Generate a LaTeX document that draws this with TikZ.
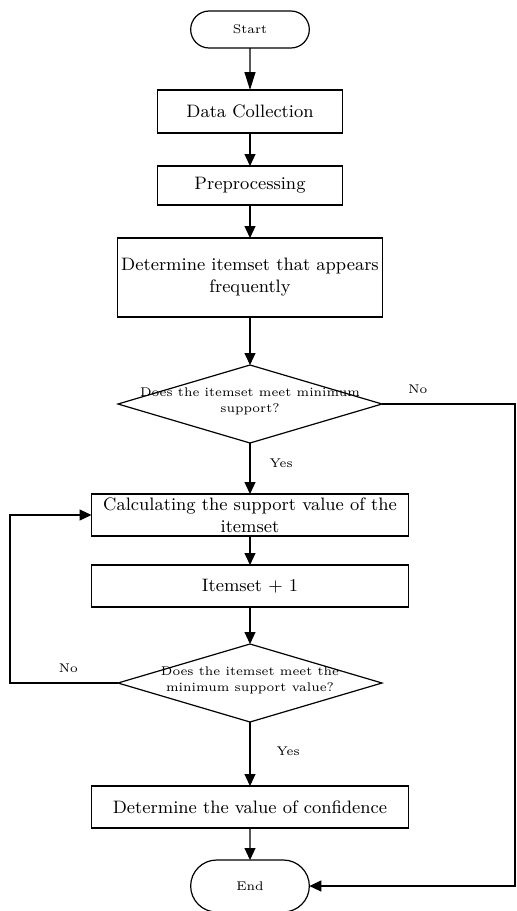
\documentclass[tikz,border=0pt]{standalone}
\usetikzlibrary{arrows.meta}
\usetikzlibrary{positioning}
\usetikzlibrary{shapes.geometric, shapes.misc}

\newcommand{\dtext}[1]{\makebox[0pt]{\smash{\begin{tabular}{@{}c@{}}#1\end{tabular}}}}

\begin{document}
\begin{tikzpicture}[-{Triangle[length=6pt, width=5.5pt]}, semithick, x=1pt, y=1pt,
    term/.style={rounded rectangle, draw, outer sep=0pt, minimum width=66pt,
    font=\fontsize{6.3}{8}\selectfont},
    proc/.style={rectangle, draw, align=center, inner xsep=1pt, inner ysep=0.5pt,
    outer sep=0pt, font=\fontsize{9}{11}\selectfont},
    decision/.style={diamond, draw, inner sep=0pt, outer sep=0pt, minimum width=132pt,
    minimum height=39pt, font=\fontsize{6.3}{8}\selectfont},
    lbl/.style={inner sep=0pt, font=\fontsize{6.3}{8}\selectfont}]

    \useasboundingbox (0,0) rectangle (258,-455.5);
    \coordinate (railL) at (5,0);
    \coordinate (railR) at (257.5,0);

    \node[term, minimum height=18.5pt] (start) at (125,-14.75) {Start};
    \node[proc, minimum width=92.5pt, minimum height=21.5pt] (collect) [below=21pt of start] {Data Collection};
    \node[proc, minimum width=92.5pt, minimum height=19.5pt] (prep) [below=16.5pt of collect] {Preprocessing};
    \node[proc, minimum width=132.5pt, minimum height=39.5pt] (freq) [below=16.5pt of prep] {Determine itemset that appears\\frequently};
    \node[decision] (check1) [below=24pt of freq] {\dtext{Does the itemset meet minimum\\support?}};
    \node[proc, minimum width=158.5pt, minimum height=21pt] (calc) [below=25.5pt of check1] {Calculating the support value of the\\itemset};
    \node[proc, minimum width=158.5pt, minimum height=21pt] (inc) [below=14.5pt of calc] {Itemset + 1};
    \node[decision] (check2) [below=18.5pt of inc] {\dtext{Does the itemset meet the\\minimum support value?}};
    \node[proc, minimum width=158.5pt, minimum height=21pt] (conf) [below=32pt of check2] {Determine the value of confidence};
    \node[term, minimum height=26pt] (stop) [below=16pt of conf] {End};

    \path (start) edge [-{Triangle[length=9pt, width=5.5pt]}] (collect);
    \path (collect) edge (prep);
    \path (prep) edge (freq);
    \path (freq) edge (check1);
    \path (check1) edge node[lbl, right=9.5pt, pos=0.39] {Yes} (calc);
    \path (calc) edge (inc);
    \path (inc) edge (check2);
    \path (check2) edge node[lbl, right=13pt, pos=0.45] {Yes} (conf);
    \path (conf) edge (stop);

    \draw (check1.east) -- node[lbl, above=4.8pt, pos=0.27] {No} (check1.east -| railR) |- (stop.east);
    \draw (check2.west) -- node[lbl, above=5pt, pos=0.46] {No} (check2.west -| railL) |- (calc.west);
  \end{tikzpicture}
\end{document}
